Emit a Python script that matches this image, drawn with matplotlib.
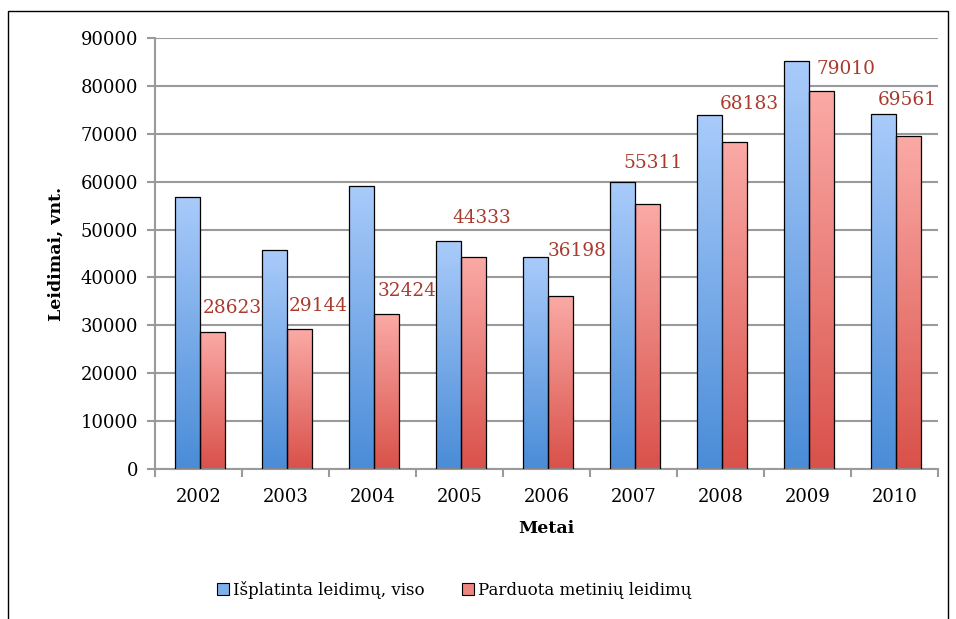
import matplotlib
matplotlib.use('Agg')
import matplotlib.pyplot as plt
import numpy as np
from matplotlib.patches import Rectangle, Patch
from matplotlib.colors import LinearSegmentedColormap

plt.rcParams['font.family'] = 'DejaVu Serif'

# Data
years = ['2002', '2003', '2004', '2005', '2006', '2007', '2008', '2009', '2010']
isplatinta = [56800, 45700, 59100, 47600, 44300, 59900, 73900, 85200, 74100]
parduota = [28623, 29144, 32424, 44333, 36198, 55311, 68183, 79010, 69561]
series_names = ['Išplatinta leidimų, viso', 'Parduota metinių leidimų']

# label offsets from top of the red bar (pixels), as placed in the original
label_dx = [20, 19, 20, 8, 16, 5, 15, 24, -1]
label_dy = [24, 23, 23, 39, 45, 41, 38, 22, 36]

BLUE_TOP, BLUE_BOT = '#A9CBFA', '#4A8CD8'
RED_TOP, RED_BOT = '#FBAAA6', '#D9514A'
LABEL_RED = '#A93A2E'
GRID = '#9A9A9A'

fig = plt.figure(figsize=(9.56, 6.19), dpi=100, facecolor='white')
ax = fig.add_axes([155 / 956, 150 / 619, 783 / 956, 431 / 619])

# outer frame
fig.patches.append(Rectangle((8 / 956, -0.05), 940 / 956, 1.05 - 11 / 619,
                             transform=fig.transFigure, fill=False,
                             edgecolor='black', linewidth=1.0, zorder=0))

x = np.arange(len(years))
w = 0.285
shift = 0.02


def gradient_bars(bars, top, bot):
    cmap = LinearSegmentedColormap.from_list('g', [bot, top])
    grad = np.linspace(0, 1, 256).reshape(-1, 1)
    for b in bars:
        x0, y0 = b.get_x(), b.get_y()
        x1, y1 = x0 + b.get_width(), y0 + b.get_height()
        im = ax.imshow(grad, cmap=cmap, aspect='auto', origin='lower',
                       extent=[x0, x1, y0, y1], zorder=2)
        im.set_clip_path(b)
        b.set_facecolor('none')


b1 = ax.bar(x + shift - w / 2, isplatinta, w, edgecolor='black', linewidth=0.9, zorder=3)
b2 = ax.bar(x + shift + w / 2, parduota, w, edgecolor='black', linewidth=0.9, zorder=3)
gradient_bars(b1, BLUE_TOP, BLUE_BOT)
gradient_bars(b2, RED_TOP, RED_BOT)

for xi, v, dx, dy in zip(x, parduota, label_dx, label_dy):
    ax.annotate(f'{v}', (xi + shift + w / 2, v), xytext=(dx, dy),
                textcoords='offset pixels', ha='center', va='center',
                color=LABEL_RED, fontsize=13.3, zorder=4)

ax.set_xlim(-0.5, len(years) - 0.5)
ax.set_ylim(0, 90000)
ax.set_yticks(np.arange(0, 90001, 10000))
ax.yaxis.grid(True, color=GRID, linewidth=1.5, zorder=1)
ax.set_axisbelow(True)
ax.set_xticks(x)
ax.set_xticklabels(years)
ax.set_xticks(np.arange(-0.5, len(years)), minor=True)
ax.tick_params(axis='x', which='major', length=0, pad=14, labelsize=13)
ax.tick_params(axis='x', which='minor', length=6, width=1.5, color=GRID, direction='out')
ax.tick_params(axis='y', length=6, width=1.5, color=GRID, labelsize=13, pad=6)

for s in ['top', 'right']:
    ax.spines[s].set_visible(False)
for s in ['left', 'bottom']:
    ax.spines[s].set_color(GRID)
    ax.spines[s].set_linewidth(1.5)

ax.set_ylabel('Leidimai, vnt.', fontsize=12.5, fontweight='bold', labelpad=12)
ax.set_xlabel('Metai', fontsize=12.5, fontweight='bold', labelpad=10)

handles = [Patch(facecolor='#7FAEEA', edgecolor='black', linewidth=0.8),
           Patch(facecolor='#EE8680', edgecolor='black', linewidth=0.8)]
fig.legend(handles, series_names, loc='center', bbox_to_anchor=(0.475, 0.047),
           ncol=2, frameon=False, fontsize=12, handlelength=0.75, handleheight=0.75,
           handletextpad=0.25, columnspacing=2.2)

fig.savefig('out.png', dpi=100, facecolor='white')
